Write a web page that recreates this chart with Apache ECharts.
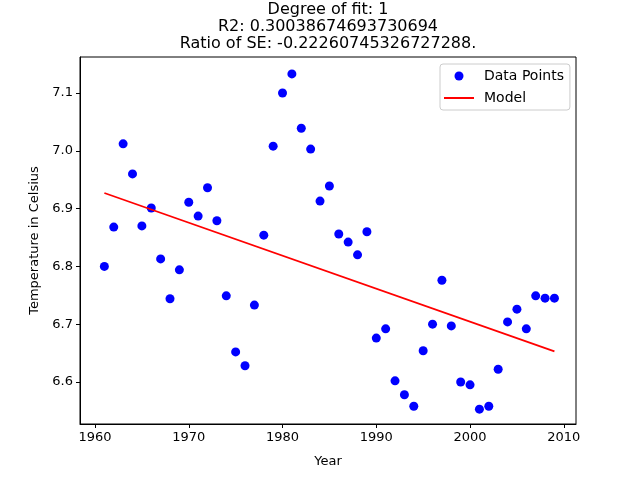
<!DOCTYPE html>
<html>
<head>
<meta charset="utf-8">
<script src="https://cdn.jsdelivr.net/npm/echarts@6/dist/echarts.min.js"></script>
<style>html,body{margin:0;padding:0;background:#fff;}#c{width:640px;height:478px;}</style>
</head>
<body>
<div id="c"></div>
<script>
const years = [1961,1962,1963,1964,1965,1966,1967,1968,1969,1970,1971,1972,1973,1974,1975,1976,1977,1978,1979,1980,1981,1982,1983,1984,1985,1986,1987,1988,1989,1990,1991,1992,1993,1994,1995,1996,1997,1998,1999,2000,2001,2002,2003,2004,2005,2006,2007,2008,2009];
const temps = [6.800,6.868,7.012,6.960,6.870,6.901,6.813,6.744,6.794,6.911,6.887,6.936,6.879,6.749,6.652,6.628,6.733,6.854,7.008,7.100,7.133,7.039,7.003,6.913,6.939,6.856,6.842,6.820,6.860,6.676,6.692,6.602,6.578,6.558,6.654,6.700,6.776,6.697,6.600,6.595,6.553,6.558,6.622,6.704,6.726,6.692,6.749,6.745,6.745];
const modelYears = [1961, 2009];
const modelValues = [6.927, 6.653];
const xTicks = [1960,1970,1980,1990,2000,2010];
const yTicks = [6.6,6.7,6.8,6.9,7.0,7.1];
const titleLines = ['Degree of fit: 1','R2: 0.30038674693730694','Ratio of SE: -0.22260745326727288.'];

const font = 'DejaVu Sans';
const chart = echarts.init(document.getElementById('c'), null, {renderer:'canvas'});
chart.setOption({
  animation:false,
  backgroundColor:'#fff',
  textStyle:{fontFamily:font},
  graphic:[{type:'text', x:328, y:1, style:{text:titleLines.join('\n'), textAlign:'center', fontFamily:font, fontSize:16, lineHeight:17, fill:'#000'}}],
  grid:{left:80, right:64, top:57, bottom:54, show:true, borderColor:'#000', borderWidth:1, backgroundColor:'transparent'},
  legend:{
    orient:'vertical', left:440, top:64, padding:[5,6,5,3],
    itemWidth:30, itemHeight:9, itemGap:8,
    backgroundColor:'#fff', borderColor:'#ccc', borderWidth:1, borderRadius:3,
    textStyle:{fontFamily:font, fontSize:14, color:'#000', padding:[0,0,0,5]},
    data:['Data Points', {name:'Model', itemStyle:{opacity:0}}]
  },
  xAxis:{
    type:'value', min:1958.4, max:2011.3,
    name:'Year', nameLocation:'middle', nameGap:31,
    nameTextStyle:{fontFamily:font, fontSize:13, color:'#000'},
    axisLine:{show:true, lineStyle:{color:'#000'}},
    axisTick:{show:true, inside:false, length:4, lineStyle:{color:'#000'}, customValues:xTicks},
    axisLabel:{color:'#000', fontFamily:font, fontSize:13, margin:7, customValues:xTicks, formatter:v=>String(v)},
    splitLine:{show:false}
  },
  yAxis:{
    type:'value', min:6.5273, max:7.1623,
    name:'Temperature in Celsius', nameLocation:'middle', nameGap:39, nameRotate:90,
    nameTextStyle:{fontFamily:font, fontSize:13, color:'#000'},
    axisLine:{show:true, lineStyle:{color:'#000'}},
    axisTick:{show:true, inside:false, length:4, lineStyle:{color:'#000'}, customValues:yTicks},
    axisLabel:{color:'#000', fontFamily:font, fontSize:13, margin:7, customValues:yTicks, formatter:v=>v.toFixed(1)},
    splitLine:{show:false}
  },
  series:[
    {name:'Data Points', type:'scatter', symbol:'circle', symbolSize:9, itemStyle:{color:'#0000ff', opacity:1},
     data:years.map((y,i)=>[y,temps[i]])},
    {name:'Model', type:'line', symbol:'none', showSymbol:false, lineStyle:{color:'#ff0000', width:1.8}, itemStyle:{color:'#ff0000'},
     data:modelYears.map((y,i)=>[y,modelValues[i]])}
  ]
});
</script>
</body>
</html>
